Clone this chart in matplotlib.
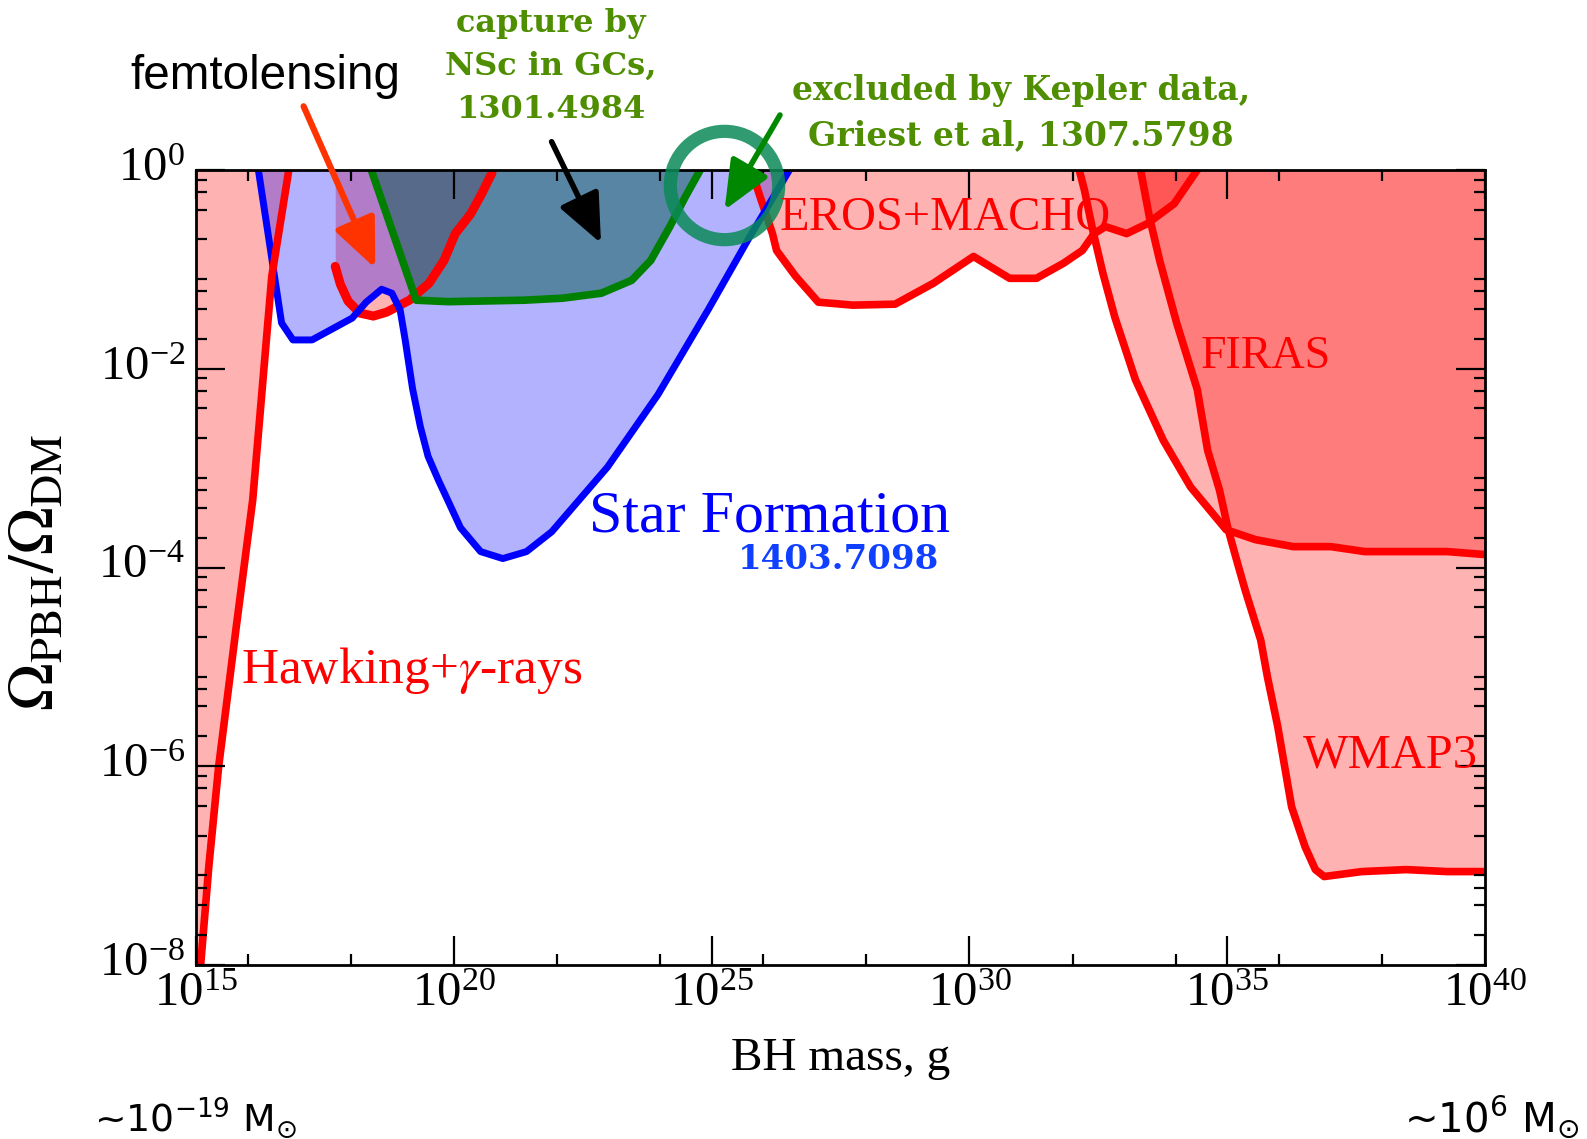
import numpy as np
import matplotlib
matplotlib.use('Agg')
import matplotlib.pyplot as plt
import matplotlib.transforms as mtransforms
from matplotlib.ticker import FixedLocator, LogFormatterSciNotation, NullFormatter

plt.rcParams['font.family'] = ['Liberation Serif', 'DejaVu Serif']
plt.rcParams['mathtext.fontset'] = 'stix'

# ---------------- data (log10 of mass in g, log10 of f = Omega_PBH/Omega_DM) -------------
hawking_logm = [15.09, 15.25, 15.44, 15.78, 16.10, 16.47, 16.80]
hawking_logf = [-8.0, -7.0, -6.0, -4.6, -3.32, -1.07, 0.0]

starform_logm = [16.21, 16.66, 16.88, 17.25, 18.03, 18.30, 18.60, 18.80, 18.96, 19.06, 19.20,
                 19.35, 19.50, 19.70, 19.88, 20.13, 20.52, 20.95, 21.41, 21.90, 22.98, 23.96,
                 24.94, 25.73, 26.51]
starform_logf = [0.0, -1.54, -1.71, -1.71, -1.49, -1.33, -1.20, -1.24, -1.41, -1.72, -2.20,
                 -2.58, -2.88, -3.12, -3.32, -3.60, -3.84, -3.91, -3.84, -3.64, -2.99, -2.26,
                 -1.40, -0.68, 0.0]

femto_logm = [17.70, 17.80, 17.95, 18.18, 18.44, 18.70, 19.14, 19.52, 19.81, 20.03, 20.33, 20.55, 20.74]
femto_logf = [-0.97, -1.15, -1.32, -1.44, -1.47, -1.43, -1.31, -1.14, -0.91, -0.64, -0.44, -0.23, -0.03]

capture_logm = [18.40, 19.27, 19.89, 21.37, 22.11, 22.86, 23.45, 23.82, 24.19, 24.49, 24.78]
capture_logf = [0.0, -1.31, -1.325, -1.31, -1.29, -1.24, -1.11, -0.91, -0.57, -0.27, 0.0]

eros_logm = [25.77, 25.96, 26.18, 26.26, 26.63, 27.07, 27.74, 28.56, 29.30, 30.08, 30.78,
             31.30, 31.82, 32.19, 32.42, 32.64, 33.05, 33.45, 33.97, 34.42]
eros_logf = [0.0, -0.30, -0.64, -0.81, -1.07, -1.33, -1.36, -1.35, -1.14, -0.87, -1.09,
             -1.09, -0.94, -0.81, -0.64, -0.57, -0.64, -0.54, -0.34, 0.0]

firas_logm = [32.13, 32.23, 32.39, 32.59, 32.82, 33.22, 33.76, 34.29, 34.98, 35.55, 36.28,
              37.01, 37.67, 38.54, 39.27, 40.0]
firas_logf = [0.0, -0.20, -0.60, -1.04, -1.48, -2.11, -2.72, -3.19, -3.62, -3.72, -3.79,
              -3.79, -3.84, -3.84, -3.84, -3.87]

wmap_logm = [33.32, 33.49, 33.69, 34.02, 34.42, 34.62, 34.85, 35.02, 35.18, 35.35, 35.65,
             35.78, 35.98, 36.25, 36.51, 36.71, 36.88, 37.61, 38.47, 39.27, 40.0]
wmap_logf = [0.0, -0.47, -0.91, -1.54, -2.21, -2.82, -3.22, -3.62, -3.92, -4.23, -4.73,
             -5.10, -5.60, -6.41, -6.81, -7.04, -7.11, -7.06, -7.04, -7.06, -7.06]

x_major_exp = [15, 20, 25, 30, 35, 40]
x_minor_exp = [16, 18, 22, 24, 26, 28, 32, 34, 36, 38]
y_major_exp = [-8, -6, -4, -2, 0]
y_minor_subs = [2, 4, 6, 8]

def P(a):
    return np.power(10.0, np.asarray(a, dtype=float))

# ---------------- figure ----------------
W, H = 1587, 1139
fig = plt.figure(figsize=(W / 100, H / 100), dpi=100)
ax = fig.add_axes([196 / W, 1 - 965 / H, (1485 - 196) / W, (965 - 170) / H])
ax.set_xscale('log')
ax.set_yscale('log')
ax.set_xlim(1e15, 1e40)
ax.set_ylim(1e-8, 1)

RED = '#ff0000'
ra = 0.30
# red fills
ax.fill_betweenx(P(hawking_logf), 1e15, P(hawking_logm), color=RED, alpha=ra, lw=0, zorder=1)
ax.fill_between(P(femto_logm), P(femto_logf), 1, color=RED, alpha=ra, lw=0, zorder=1)
ax.fill_between(P(eros_logm), P(eros_logf), 1, color=RED, alpha=ra, lw=0, zorder=1)
ax.fill_between(P(firas_logm), P(firas_logf), 1, color=RED, alpha=ra, lw=0, zorder=1)
ax.fill_between(P(wmap_logm), P(wmap_logf), 1, color=RED, alpha=ra, lw=0, zorder=1)
# blue fill
ax.fill_between(P(starform_logm), P(starform_logf), 1, color='#0000ff', alpha=0.30, lw=0, zorder=2)
# capture fill
ax.fill_between(P(capture_logm), P(capture_logf), 1, color='#005a4b', alpha=0.50, lw=0, zorder=3)

# lines
kw = dict(solid_capstyle='round', solid_joinstyle='round')
ax.plot(P(eros_logm), P(eros_logf), color=RED, lw=5.5, zorder=4, **kw)
ax.plot(P(femto_logm), P(femto_logf), color=RED, lw=6.5, zorder=4, **kw)
ax.plot(P(starform_logm), P(starform_logf), color='#0000ff', lw=5.0, zorder=5, **kw)
ax.plot(P(capture_logm), P(capture_logf), color='#008000', lw=5.5, zorder=6, **kw)
ax.plot(P(hawking_logm), P(hawking_logf), color=RED, lw=5.5, zorder=7, **kw)
ax.plot(P(firas_logm), P(firas_logf), color=RED, lw=5.5, zorder=7, **kw)
ax.plot(P(wmap_logm), P(wmap_logf), color=RED, lw=5.5, zorder=7, **kw)

# ticks
ax.xaxis.set_major_locator(FixedLocator(P(x_major_exp)))
ax.xaxis.set_minor_locator(FixedLocator(P(x_minor_exp)))
ax.yaxis.set_major_locator(FixedLocator(P(y_major_exp)))
yminor = [s * 10.0 ** k for k in range(-8, 0) for s in y_minor_subs]
ax.yaxis.set_minor_locator(FixedLocator(yminor))
ax.xaxis.set_major_formatter(LogFormatterSciNotation())
ax.yaxis.set_major_formatter(LogFormatterSciNotation())
ax.xaxis.set_minor_formatter(NullFormatter())
ax.yaxis.set_minor_formatter(NullFormatter())
ax.tick_params(which='both', direction='in', top=True, right=True, width=1.6, color='black')
ax.tick_params(which='major', length=21, labelsize=35)
ax.tick_params(which='minor', length=8)
ax.tick_params(axis='x', which='major', pad=5)
ax.tick_params(axis='y', which='major', pad=8)
for s in ax.spines.values():
    s.set_linewidth(2.0)
    s.set_zorder(10)
ax.xaxis.set_zorder(10)
ax.yaxis.set_zorder(10)

# lift the y tick labels a little, as in the reference
lift = mtransforms.ScaledTranslation(0, 6 / 100, fig.dpi_scale_trans)
for lab in ax.get_yticklabels():
    lab.set_transform(lab.get_transform() + lift)

ax.set_xlabel('BH mass, g', fontsize=33)
ax.xaxis.set_label_coords((841 - 196) / 1289, (965 - 1037) / 795)

renderer = fig.canvas.get_renderer()

def fit(t, target, vertical=False):
    bb = t.get_window_extent(renderer)
    cur = bb.height if vertical else bb.width
    t.set_fontsize(t.get_fontsize() * target / cur)
    return t

def ftext(x, y, s, **k):
    return fig.text(x / W, 1 - y / H, s, **k)

fit(ax.xaxis.label, 220)
fit(ftext(40, 572, r'$\Omega_{\rm PBH}/\Omega_{\rm DM}$', rotation=90, ha='center', va='center',
          fontsize=36), 278, vertical=True)

# region labels
fit(ftext(780, 230, 'EROS+MACHO', color=RED, fontsize=34, va='baseline', zorder=20), 331)
fit(ftext(1201, 368, 'FIRAS', color=RED, fontsize=34, va='baseline', zorder=20), 130)
fit(ftext(1303, 767, 'WMAP3', color=RED, fontsize=34, va='baseline', zorder=20), 175)
fit(ftext(241, 683, r'Hawking+$\gamma$-rays', color=RED, fontsize=34, va='baseline', zorder=20), 342)
fit(ftext(589, 531, 'Star Formation', color='#0000ff', fontsize=40, va='baseline', zorder=20), 361)
fit(ftext(738, 569, '1403.7098', color='#1040ff', fontsize=24, fontweight='bold',
          family='DejaVu Serif', va='baseline', zorder=20), 202)

GREEN_T = '#4e8e00'
t_mid = ftext(551, 75, 'NSc in GCs,', color=GREEN_T, fontsize=24, fontweight='bold',
              family='DejaVu Serif', ha='center', va='baseline')
fit(t_mid, 212)
cs = t_mid.get_fontsize()
ftext(551, 32, 'capture by', color=GREEN_T, fontsize=cs, fontweight='bold',
      family='DejaVu Serif', ha='center', va='baseline')
ftext(551, 118, '1301.4984', color=GREEN_T, fontsize=cs, fontweight='bold',
      family='DejaVu Serif', ha='center', va='baseline')

t_k1 = ftext(1021, 100, 'excluded by Kepler data,', color=GREEN_T, fontsize=24, fontweight='bold',
             family='DejaVu Serif', ha='center', va='baseline')
fit(t_k1, 460)
ftext(1021, 145, 'Griest et al, 1307.5798', color=GREEN_T, fontsize=t_k1.get_fontsize(),
      fontweight='bold', family='DejaVu Serif', ha='center', va='baseline')

fit(ftext(130, 89, 'femtolensing', color='black', fontsize=34, family='Liberation Sans',
          va='baseline'), 270)

fit(ftext(94, 1131, r'~10$^{-19}$ M$_{\odot}$', color='black', fontsize=30, family='DejaVu Sans',
          math_fontfamily='dejavusans', va='baseline'), 203)
fit(ftext(1404, 1132, r'~10$^{6}$ M$_{\odot}$', color='black', fontsize=30, family='DejaVu Sans',
          math_fontfamily='dejavusans', va='baseline'), 175)

# Kepler ring
ax.plot([P(25.25)], [P(-0.15)], marker='o', ms=78, mfc='none', mec='#0b8a58', mew=9.5,
        alpha=0.85, clip_on=False, zorder=12)

# arrows
def arrow(tip_logm, tip_logf, start_px, color, lw):
    ax.annotate('', xy=(P(tip_logm), P(tip_logf)), xycoords='data',
                xytext=(start_px[0], H - start_px[1]), textcoords='figure pixels',
                arrowprops=dict(arrowstyle='-|>,head_length=1.5,head_width=0.65', color=color,
                                lw=lw, shrinkA=0, shrinkB=0, mutation_scale=20),
                annotation_clip=False, zorder=13)

arrow(18.476, -0.989, (303.6, 106.3), '#ff3300', 4.5)
arrow(22.855, -0.737, (551.6, 141.7), 'black', 4.0)
arrow(25.252, -0.402, (780.0, 115.0), '#008800', 4.0)

fig.savefig('out.png', dpi=100)
